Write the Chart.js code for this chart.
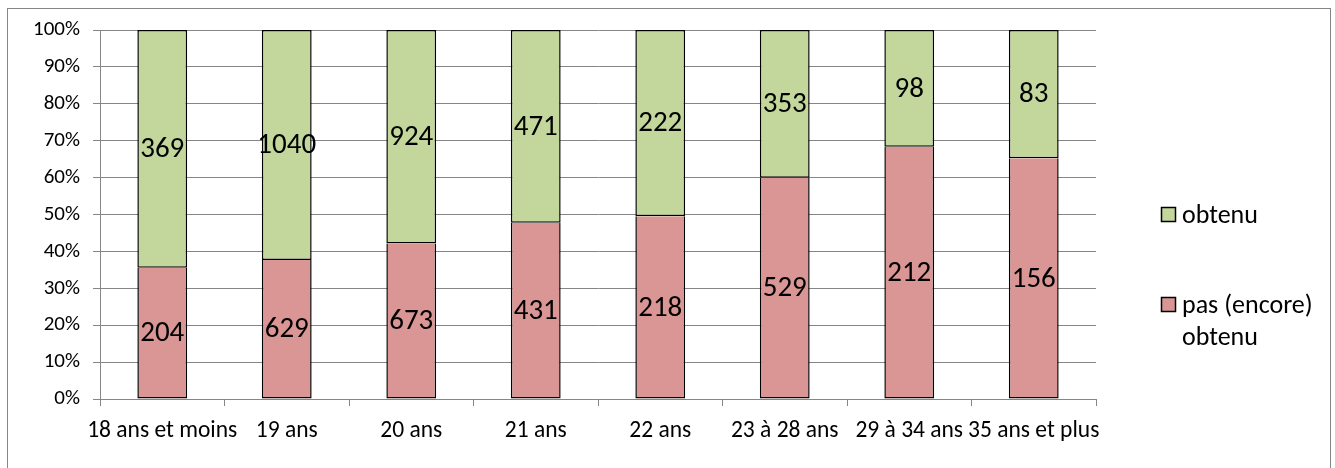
<!DOCTYPE html>
<html>
<head>
<meta charset="utf-8">
<script src="https://cdn.jsdelivr.net/npm/chart.js@4"></script>
<style>
  html, body { margin: 0; padding: 0; background: #fff; }
  #frame { position: absolute; left: 7px; top: 8px; width: 1322px; height: 470px; border: 1px solid #868686; }
  #wrap { position: absolute; left: 0; top: 0; width: 1335px; height: 468px; }
</style>
</head>
<body>
<div id="frame"></div>
<div id="wrap"><canvas id="myChart" width="1335" height="468"></canvas></div>
<script>
const categories = ['18 ans et moins', '19 ans', '20 ans', '21 ans', '22 ans', '23 à 28 ans', '29 à 34 ans', '35 ans et plus'];
const pasObtenu = [204, 629, 673, 431, 218, 529, 212, 156];
const obtenu = [369, 1040, 924, 471, 222, 353, 98, 83];
const yTicks = [0, 10, 20, 30, 40, 50, 60, 70, 80, 90, 100];

const FONT = 'Carlito, Lato, sans-serif';
const GRID = '#868686';

// share of each group, so the bars stack to 100%
const totals = categories.map((c, i) => pasObtenu[i] + obtenu[i]);
const pct = (arr) => arr.map((v, i) => v / totals[i] * 100);

const valueLabels = {
    id: 'valueLabels',
    afterDatasetsDraw(chart) {
        const ctx = chart.ctx;
        ctx.save();
        ctx.fillStyle = '#000';
        ctx.font = '29px ' + FONT;
        ctx.textAlign = 'center';
        ctx.textBaseline = 'middle';
        chart.data.datasets.forEach((ds, di) => {
            chart.getDatasetMeta(di).data.forEach((bar, i) => {
                ctx.fillText(String(ds.counts[i]), bar.x, (bar.y + bar.base) / 2 + 1);
            });
        });
        ctx.restore();
    }
};

const sideLegend = {
    id: 'sideLegend',
    afterDraw(chart) {
        const ctx = chart.ctx;
        const ds = chart.data.datasets;
        const items = [
            { d: ds[1], y: 215 },
            { d: ds[0], y: 305 }
        ];
        ctx.save();
        ctx.font = '26px ' + FONT;
        ctx.textBaseline = 'middle';
        ctx.textAlign = 'left';
        items.forEach(it => {
            ctx.fillStyle = it.d.backgroundColor;
            ctx.fillRect(1161.5, it.y - 7.5, 14, 14);
            ctx.strokeStyle = '#000';
            ctx.lineWidth = 1.5;
            ctx.strokeRect(1161.5, it.y - 7.5, 14, 14);
            ctx.fillStyle = '#000';
            const lines = Array.isArray(it.d.label) ? it.d.label : [it.d.label];
            lines.forEach((t, k) => ctx.fillText(t, 1182, it.y + 1 + k * 32));
        });
        ctx.restore();
    }
};

new Chart(document.getElementById('myChart'), {
    type: 'bar',
    data: {
        labels: categories,
        datasets: [
            {
                label: ['pas (encore)', 'obtenu'],
                data: pct(pasObtenu),
                counts: pasObtenu,
                backgroundColor: '#D99694',
                borderColor: '#000',
                // top edge comes from the green segment above
                borderWidth: { top: 0, left: 1.5, right: 1.5, bottom: 1.5 },
                borderSkipped: false
            },
            {
                label: 'obtenu',
                data: pct(obtenu),
                counts: obtenu,
                backgroundColor: '#C3D69B',
                borderColor: '#000',
                borderWidth: 1.5,
                borderSkipped: false
            }
        ]
    },
    options: {
        responsive: false,
        animation: false,
        layout: { padding: { left: 0, top: 30, right: 239, bottom: 0 } },
        datasets: { bar: { categoryPercentage: 1, barPercentage: 0.4 } },
        plugins: {
            legend: { display: false },
            tooltip: { enabled: false }
        },
        scales: {
            x: {
                stacked: true,
                afterFit: (s) => { s.height = 69; },
                grid: { offset: true, drawOnChartArea: false, drawTicks: true, tickLength: 7, color: GRID },
                border: { color: GRID },
                ticks: { color: '#000', padding: 11, maxRotation: 0, autoSkip: false, font: { family: FONT, size: 23.5 } }
            },
            y: {
                stacked: true,
                min: 0,
                max: 100,
                afterFit: (s) => { s.width = 100; },
                afterBuildTicks: (s) => { s.ticks = yTicks.map(v => ({ value: v })); },
                grid: { color: GRID, tickLength: 7 },
                border: { color: GRID },
                ticks: { color: '#000', padding: 13, callback: (v) => v + '%', font: { family: FONT, size: 21 } }
            }
        }
    },
    plugins: [valueLabels, sideLegend]
});
</script>
</body>
</html>
